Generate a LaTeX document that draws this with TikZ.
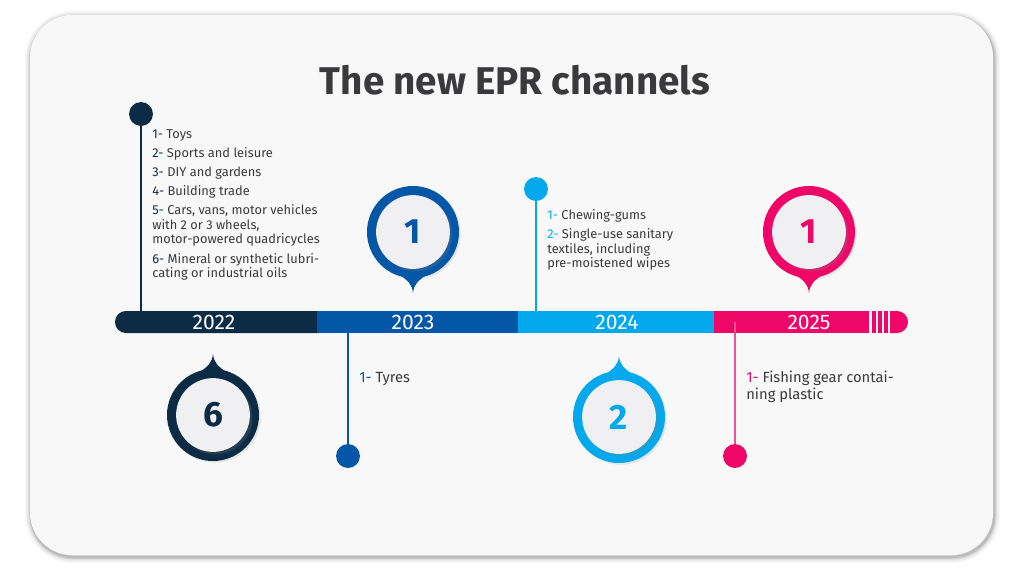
\documentclass[tikz,border=0pt]{standalone}
\usepackage{fontspec}
\setmainfont{Fira Sans}
\usetikzlibrary{shadows}

\definecolor{navy}{HTML}{0C2B44}
\definecolor{royal}{HTML}{0456A6}
\definecolor{sky}{HTML}{03A9EC}
\definecolor{rose}{HTML}{EF0767}
\definecolor{card}{HTML}{F8F8F8}
\definecolor{face}{HTML}{F0F0F2}
\definecolor{ink}{HTML}{3A3A3C}

\newcommand\itm[2]{\textcolor{#1}{#2-}~}
% pin: name, centre, colour, 1 = tip down / -1 = tip up, number
\newcommand\pinmark[5]{%
  \begin{scope}[shift={(#2)}]
    \fill[#3,drop shadow={shadow xshift=1pt,shadow yshift=-1pt,opacity=.15}] (0,0) circle[radius=46];
    \fill[#3,yscale=#4] (-13,43) .. controls (-5,49) and (-1,52) .. (0,61)
      .. controls (1,52) and (5,49) .. (13,43) -- cycle;
    \node[pinface,text=#3] (#1) at (0,0) {#5};
  \end{scope}}

\tikzset{
  pinface/.style={circle,fill=face,minimum size=42pt,inner sep=0pt,
    font=\fontsize{20}{24}\selectfont\bfseries,
    drop shadow={shadow xshift=1.5pt,shadow yshift=-1.5pt,opacity=.22}},
  dot/.style={circle,minimum size=13.6pt,inner sep=0pt},
  year/.style={text=white,font=\fontsize{12}{14}\selectfont},
  list/.style={anchor=north west,inner sep=0pt,align=left,text=ink},
}

\begin{document}
\begin{tikzpicture}[x=0.02cm,y=-0.02cm,line width=.35pt,font=\fontsize{7.3}{8.3}\selectfont]
\useasboundingbox (0,0) rectangle (1024,576);
\fill[white] (0,0) rectangle (1024,576);
% card
\foreach \w/\o in {7/.03,5/.05,3/.08,1.5/.12}
  \draw[black,opacity=\o,line width=\w pt,rounded corners=24pt] (31,17) rectangle (994,557);
\fill[card,rounded corners=24pt] (30,15) rectangle (993,555);

\node[font=\fontsize{22}{26}\selectfont\bfseries,text=ink] (title) at (515,80) {The new EPR channels};

% timeline bar
\fill[navy,rounded corners=6.2pt] (115,311) rectangle (330,333);
\fill[royal] (317,311) rectangle (518,333);
\fill[sky] (518,311) rectangle (714,333);
\fill[rose] (714,311) rectangle (869,333);
\foreach \s in {872,878,884}
  \fill[rose] (\s,311) rectangle (\s+3.5,333);
\fill[rose] (890,311) -- (897,311) arc[start angle=-90,end angle=90,radius=11] -- (890,333) -- cycle;
\node[year] (y22) at (214,322) {2022};
\node[year] (y23) at (413,322) {2023};
\node[year] (y24) at (617,322) {2024};
\node[year] (y25) at (809,322) {2025};

% 2022
\node[dot,fill=navy] (d22) at (141,114) {};
\coordinate (b22) at (141,322);
\draw[navy,line width=.8pt] (d22) -- (b22);
\node[list] (l22) at (152,129) {\itm{navy}{1}Toys\\[2.6pt]
  \itm{navy}{2}Sports and leisure\\[2.6pt]
  \itm{navy}{3}DIY and gardens\\[2.6pt]
  \itm{navy}{4}Building trade\\[2.6pt]
  \itm{navy}{5}Cars, vans, motor vehicles\\with 2 or 3 wheels,\\motor-powered quadricycles\\[2.6pt]
  \itm{navy}{6}Mineral or synthetic lubri-\\cating or industrial oils};
\pinmark{p22}{213,415}{navy}{-1}{6}

% 2023
\node[dot,fill=royal] (d23) at (348,456) {};
\coordinate (b23) at (348,322);
\draw[royal,line width=.8pt] (d23) -- (b23);
\node[list,anchor=west,font=\fontsize{8.4}{9.6}\selectfont] (l23) at (359,379) {\itm{royal}{1}Tyres};
\pinmark{p23}{413,232}{royal}{1}{1}

% 2024
\node[dot,fill=sky] (d24) at (536,189) {};
\coordinate (b24) at (536,322);
\draw[sky,line width=.8pt] (d24) -- (b24);
\node[list] (l24) at (547,209) {\itm{sky}{1}Chewing-gums\\[2.6pt]
  \itm{sky}{2}Single-use sanitary\\textiles, including\\pre-moistened wipes};
\pinmark{p24}{619,417}{sky}{-1}{2}

% 2025
\node[dot,fill=rose] (d25) at (735,456) {};
\coordinate (b25) at (735,322);
\draw[rose!70,line width=.8pt] (d25) -- (b25);
\node[list,font=\fontsize{8.4}{9.6}\selectfont] (l25) at (746,371) {\itm{rose}{1}Fishing gear contai-\\ning plastic};
\pinmark{p25}{809,232}{rose}{1}{1}
\end{tikzpicture}
\end{document}
